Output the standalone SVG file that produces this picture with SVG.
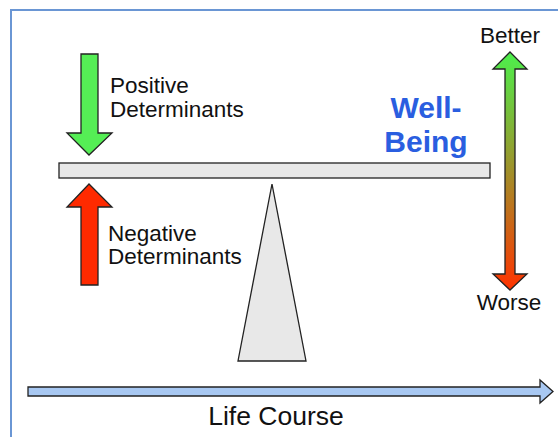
<svg xmlns="http://www.w3.org/2000/svg" width="558" height="437" viewBox="0 0 558 437">
<defs>
<linearGradient id="gr" x1="0" y1="0" x2="0" y2="1">
<stop offset="0" stop-color="#4cf04c"/>
<stop offset="0.5" stop-color="#a0902a"/>
<stop offset="1" stop-color="#ff3300"/>
</linearGradient>
<style>
.t{font-family:"Liberation Sans",Arial,sans-serif;font-size:22.5px;fill:#111}
.s{stroke:#222;stroke-width:1.3}
</style>
</defs>
<rect width="558" height="437" fill="#fff"/>
<g id="frame" fill="none" stroke="#6a96d4" stroke-width="2">
<polyline points="11,437 11,10 558,10"/>
</g>
<g id="beam"><rect class="s" x="59" y="163" width="431" height="15" fill="#e8e8e8"/></g>
<g id="fulcrum"><polygon class="s" points="272,184 238,361 306,361" fill="#e8e8e8"/></g>
<g id="positive">
<polygon class="s" points="81,54 98,54 98,133 112,133 89,155 67,133 81,133" fill="#55ee55"/>
<text class="t" x="110" y="93">Positive</text>
<text class="t" x="110" y="117">Determinants</text>
</g>
<g id="negative">
<polygon class="s" points="81,285 98,285 98,207 112,207 89,184 67,207 81,207" fill="#ff2a00"/>
<text class="t" x="108" y="241">Negative</text>
<text class="t" x="108" y="264">Determinants</text>
</g>
<g id="wellbeing">
<text x="426" y="118" text-anchor="middle" font-family="Liberation Sans,Arial,sans-serif" font-weight="bold" font-size="30" fill="#2a5ee0">Well-</text>
<text x="426" y="152" text-anchor="middle" font-family="Liberation Sans,Arial,sans-serif" font-weight="bold" font-size="30" fill="#2a5ee0">Being</text>
</g>
<g id="scale">
<polygon class="s" points="510,52 527,69 515,69 515,274 527,274 510,290 493,274 505,274 505,69 493,69" fill="url(#gr)"/>
<text class="t" x="510" y="43" text-anchor="middle">Better</text>
<text class="t" x="509" y="310" text-anchor="middle">Worse</text>
</g>
<g id="connectors">
<polygon class="s" points="28,387 540,387 540,380 553,391.5 540,403 540,396 28,396" fill="#a8c8f2"/>
</g>
<g id="lifecourse"><text class="t" x="276" y="425" text-anchor="middle" style="font-size:26.5px">Life Course</text></g>
</svg>
